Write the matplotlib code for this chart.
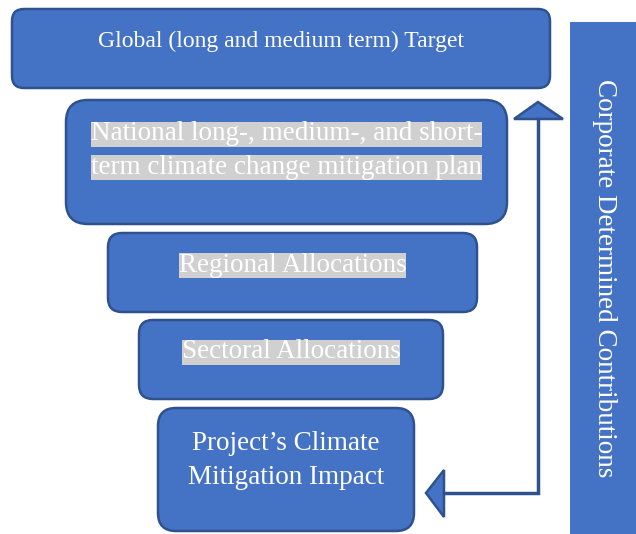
import matplotlib.pyplot as plt
from matplotlib.patches import FancyBboxPatch, Rectangle, Polygon

# =========================================================
# CONTENT
# =========================================================

LEVEL_LABELS = [
    ["Global (long and medium term) Target"],
    ["National long-, medium-, and short-", "term climate change mitigation plan"],
    ["Regional Allocations"],
    ["Sectoral Allocations"],
    ["Project\u2019s Climate", "Mitigation Impact"],
]
HIGHLIGHTED = [False, True, True, True, False]
SIDE_LABEL = "Corporate Determined Contributions"

# box layout in pixels: (left, top, right, bottom, corner radius, first text line y, font size)
BOXES = [
    (12, 9, 550, 88, 12, 41, 17),
    (66, 100, 507, 224, 22, 134, 19.5),
    (108, 233, 477, 312, 14, 265, 19.5),
    (139, 320, 443, 399, 14, 352, 19.5),
    (158, 408, 414, 531, 18, 444, 19.5),
]
LINE_STEP = 33

FILL = "#4472C4"
EDGE = "#2F528F"
HIGHLIGHT = "#D0D0D0"
FONT = "Liberation Serif"

# =========================================================
# DRAW
# =========================================================

fig = plt.figure(figsize=(6.36, 5.34), dpi=100)
ax = fig.add_axes([0, 0, 1, 1])
ax.set_xlim(0, 636)
ax.set_ylim(534, 0)
ax.axis("off")

for (x0, y0, x1, y1, r, ty, fs), lines, hl in zip(BOXES, LEVEL_LABELS, HIGHLIGHTED):
    box = FancyBboxPatch((x0, y0), x1 - x0, y1 - y0,
                         boxstyle=f"round,pad=0,rounding_size={r}",
                         facecolor=FILL, edgecolor=EDGE, linewidth=1.8)
    ax.add_patch(box)
    cx = (x0 + x1) / 2
    for k, line in enumerate(lines):
        kw = {}
        if hl:
            kw["bbox"] = dict(facecolor=HIGHLIGHT, edgecolor="none", pad=0)
        ax.text(cx, ty + k * LINE_STEP, line, ha="center", va="center",
                color="white", fontsize=fs, family=FONT, **kw)

# side bar
ax.add_patch(Rectangle((570, 22), 66, 512, facecolor=FILL, edgecolor="none"))
ax.text(605, 278, SIDE_LABEL, rotation=-90, ha="center", va="center",
        color="white", fontsize=19.5, family=FONT)

# feedback arrow
ax.plot([538, 538, 444], [119, 493, 493], color=EDGE, linewidth=2.5,
        solid_joinstyle="miter")
ax.add_patch(Polygon([(538, 102), (514, 119), (563, 119)], closed=True,
                     facecolor=FILL, edgecolor=EDGE, linewidth=1.8))
ax.add_patch(Polygon([(426, 493), (444, 470), (444, 517)], closed=True,
                     facecolor=FILL, edgecolor=EDGE, linewidth=1.8))

plt.savefig("out.png", dpi=100)
plt.close()
